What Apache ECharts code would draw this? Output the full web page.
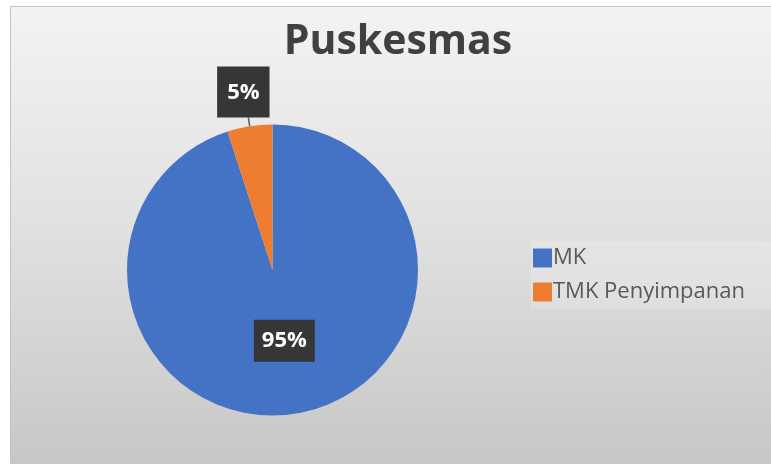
<!DOCTYPE html>
<html>
<head>
<meta charset="utf-8">
<script src="https://cdn.jsdelivr.net/npm/echarts@6/dist/echarts.min.js"></script>
<style>
  html, body { margin: 0; padding: 0; background: #fff; }
  #chart {
    position: absolute;
    left: 10px;
    top: 6px;
    width: 761px;
    height: 458px;
    border-left: 1px solid #c3c3c3;
    border-top: 1px solid #c3c3c3;
    background: linear-gradient(to bottom, #f3f3f3 0%, #e2e2e2 45%, #c7c7c7 100%);
  }
</style>
</head>
<body>
<div id="chart"></div>
<script>
const categories = ['MK', 'TMK Penyimpanan']
const values = [95, 5]
const colors = ['#4472C4', '#ED7D31']

const chart = echarts.init(document.getElementById('chart'))

const option = {
  backgroundColor: 'transparent',
  title: {
    text: 'Puskesmas',
    left: 382,
    top: 10,
    textAlign: 'center',
    textStyle: {
      fontFamily: 'Open Sans',
      fontWeight: 'bold',
      fontSize: 41,
      color: '#404040'
    }
  },
  legend: {
    orient: 'vertical',
    left: 520,
    top: 234,
    itemWidth: 19,
    itemHeight: 19,
    itemGap: 12,
    icon: 'rect',
    backgroundColor: 'rgba(255,255,255,0.2)',
    padding: [6, 30, 6, 2],
    textStyle: {
      fontFamily: 'Open Sans',
      fontSize: 22,
      color: '#595959',
      padding: [0, 0, 0, -4]
    },
    data: categories
  },
  series: [
    {
      type: 'pie',
      center: [261.5, 263],
      radius: 145.5,
      startAngle: 90,
      clockwise: true,
      silent: true,
      data: categories.map((name, i) => ({
        name,
        value: values[i],
        itemStyle: { color: colors[i] },
        label: i === 0
          ? { position: 'inside', padding: [10, 8, 10, 8], offset: [0, -4] }
          : { position: 'outside', padding: [15, 10, 14, 10] },
        labelLine: i === 0
          ? { show: false }
          : { show: true, length: 9, length2: 0, lineStyle: { color: '#595959', width: 1.5 } }
      })),
      label: {
        formatter: '{d}%',
        fontFamily: 'Open Sans',
        fontWeight: 'bold',
        fontSize: 22,
        color: '#fff',
        backgroundColor: '#363636'
      },
      labelLayout: function (params) {
        if (params.dataIndex === 1) {
          return { align: 'center', verticalAlign: 'bottom' }
        }
        return {}
      }
    }
  ]
}

chart.setOption(option)
</script>
</body>
</html>
